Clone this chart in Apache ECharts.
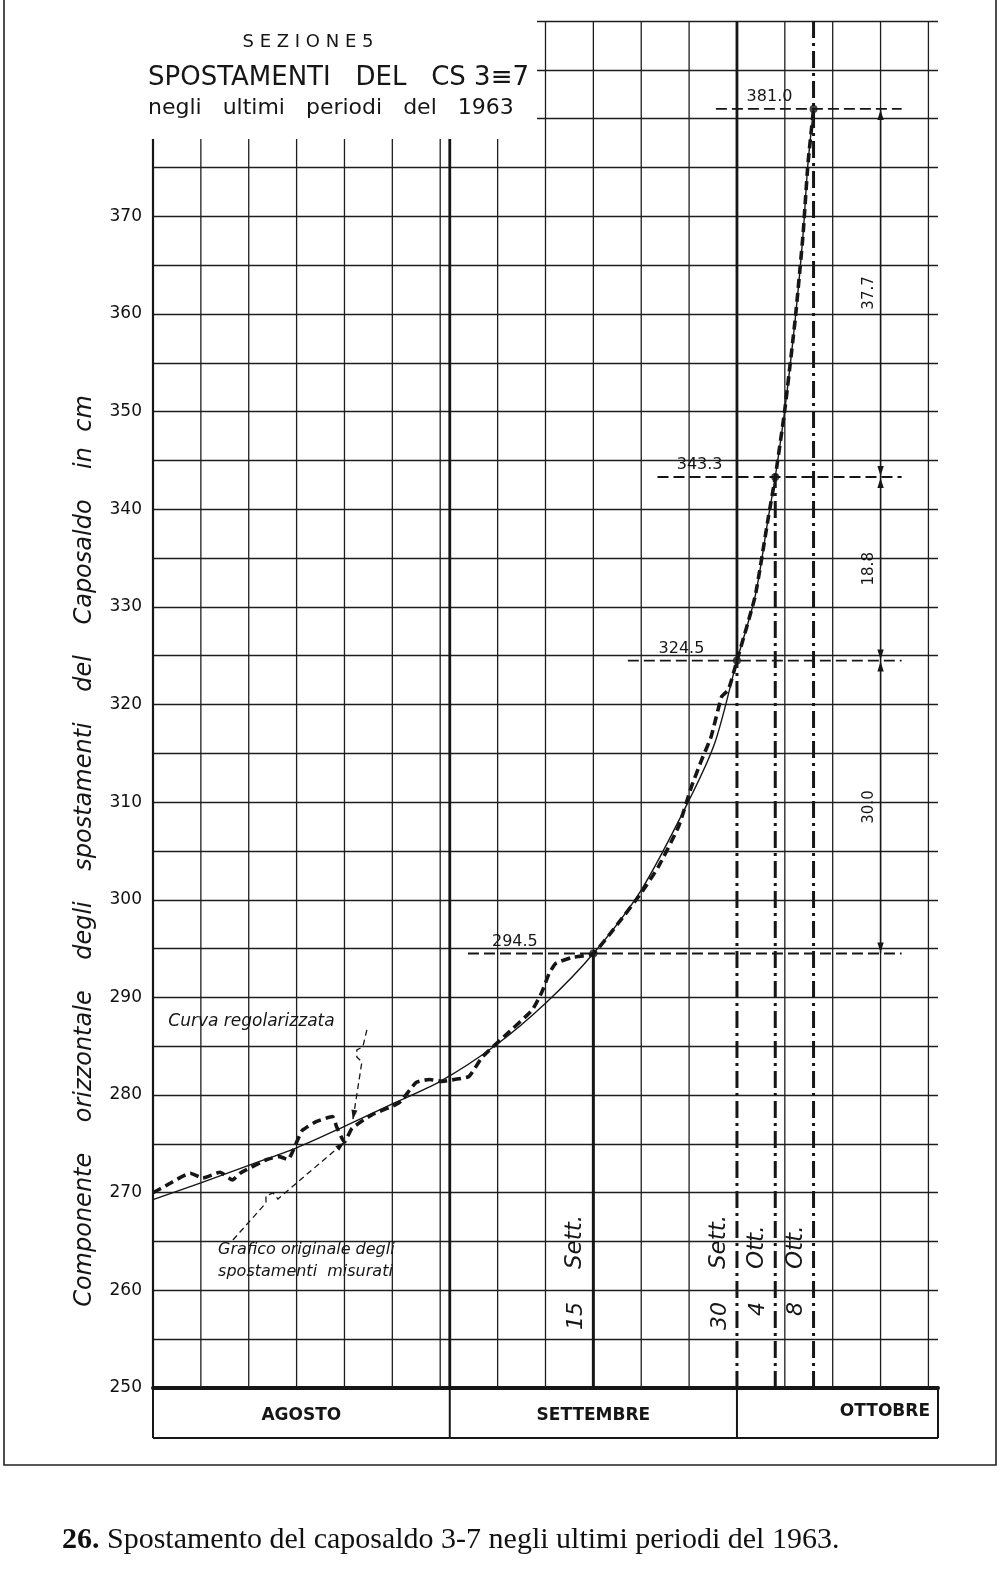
<!DOCTYPE html>
<html><head><meta charset="utf-8">
<script src="https://cdn.jsdelivr.net/npm/echarts@6/dist/echarts.min.js"></script>
<style>html,body{margin:0;padding:0;background:#fff}#c{width:1000px;height:1571px}</style>
</head><body><div id="c"></div>
<script>
// ---------------- data ----------------
const monthNames = ['AGOSTO', 'SETTEMBRE', 'OTTOBRE'];
const monthBounds = [0, 31, 61, 82];            // day index (1 Aug = day 1)
const gridDays = [5, 10, 15, 20, 25, 30, 36, 41, 46, 51, 56, 66, 71, 76, 81];
const yTickValues = [250, 260, 270, 280, 290, 300, 310, 320, 330, 340, 350, 360, 370];

// "Curva regolarizzata" (smoothed curve)  [day, cm]
const smoothCurve = [
  [0, 269.3], [5, 271.0], [10, 272.8], [15, 274.6], [20, 276.8], [25, 279.1], [30, 281.4],
  [35.8, 285.1], [41, 289.4], [46, 294.5], [51, 301.0], [56.1, 310.4], [58.7, 316.1],
  [61, 324.5], [62.9, 331.1], [64.3, 339.3], [65, 343.3], [66, 350.2], [67.1, 359.6],
  [67.9, 368.1], [68.4, 375.2], [69, 381.0]
];
// "Grafico originale degli spostamenti misurati" (measured)  [day, cm]
const measuredCurve = [
  [0, 270.0], [1.5, 270.8], [3.9, 272.0], [5.2, 271.5], [7.0, 272.1], [8.3, 271.3], [9.1, 272.0],
  [11.9, 273.4], [13.2, 273.7], [14.1, 273.4], [15.1, 275.4], [15.6, 276.4], [17.1, 277.3],
  [18.75, 277.8], [19.2, 276.7], [20.0, 275.2], [20.8, 276.6], [22.9, 278.0], [25.7, 279.2],
  [27.5, 281.3], [28.9, 281.6], [30.2, 281.4], [31.5, 281.6], [33, 281.9], [34.4, 283.9],
  [36.9, 286.2], [39.6, 288.7], [40.6, 290.5], [41.4, 292.5], [42.1, 293.5], [43.8, 294.1],
  [46, 294.5], [48.6, 297.6], [51, 300.7], [52.8, 303.4], [54.9, 307.5], [56.25, 311.6],
  [57.3, 314.3], [58.3, 316.7], [59.4, 320.8], [60.1, 321.5], [61, 324.5], [62.9, 331.1],
  [64.3, 339.3], [65, 343.3], [66, 350.2], [67.1, 359.6], [67.9, 368.1], [68.4, 375.2], [69, 381.0]
];
const keyDays = [46, 61, 65, 69];
const keyValues = [294.5, 324.5, 343.3, 381.0];
const keyLabels = ['294.5', '324.5', '343.3', '381.0'];
const dateNums = ['15', '30', '4', '8'];
const dateMonths = ['Sett.', 'Sett.', 'Ott.', 'Ott.'];
const incrementLabels = ['30.0', '18.8', '37.7'];

// ---------------- layout / style ----------------
const INK = '#161616';
const FONT = 'DejaVu Sans';
const Y_MIN = 250, Y_MAX = 390;
const refStartOff = [-13.1, -11.4, -12.3, -10.2];
const refLabelOff = [-8.2, -5.8, -7.9, -4.6];
const refEnd = 78.2;
const dimDay = 76;
const leader1 = [[22.34, 286.68], [21.92, 284.94], [21.29, 284.63], [21.29, 283.91], [21.82, 283.4], [20.88, 277.46]];
const leader2 = [[8.35, 265.16], [11.8, 268.95], [11.8, 269.67], [12.53, 269.98], [13.05, 269.36], [13.67, 269.88], [20.04, 275.2]];

function arrow(tip, from, len, w) {
  const dx = tip[0] - from[0], dy = tip[1] - from[1];
  const L = Math.hypot(dx, dy) || 1, ux = dx / L, uy = dy / L;
  const bx = tip[0] - ux * len, by = tip[1] - uy * len;
  return { type: 'polygon', shape: { points: [tip, [bx - uy * w, by + ux * w], [bx + uy * w, by - ux * w]] }, style: { fill: INK } };
}

function renderAnnotations(params, api) {
  const c = (t, v) => api.coord([t, v]);
  const kids = [];
  const base = c(0, Y_MIN)[1];
  keyDays.forEach((d, i) => {
    const topV = (i === keyDays.length - 1) ? Y_MAX : keyValues[i];
    const p0 = c(d, Y_MIN), p1 = c(d, topV);
    kids.push({ type: 'line', shape: { x1: p0[0], y1: p0[1], x2: p1[0], y2: p1[1] },
      style: { stroke: INK, lineWidth: 3, lineDash: i === 0 ? null : [17, 5, 3, 5] } });
    kids.push({ type: 'text', x: p0[0] - 17, y: base - 86, rotation: Math.PI / 2,
      style: { text: dateNums[i], fill: INK, font: 'italic 22px ' + FONT, align: 'right', verticalAlign: 'middle' } });
    kids.push({ type: 'text', x: p0[0] - 18, y: base - 119, rotation: Math.PI / 2,
      style: { text: dateMonths[i], fill: INK, font: 'italic 23px ' + FONT, align: 'left', verticalAlign: 'middle' } });
  });
  keyDays.forEach((d, i) => {
    const a = c(d + refStartOff[i], keyValues[i]), b = c(refEnd, keyValues[i]);
    kids.push({ type: 'line', shape: { x1: a[0], y1: a[1], x2: b[0], y2: b[1] },
      style: { stroke: INK, lineWidth: 1.8, lineDash: [11, 5] } });
    const l = c(d + refLabelOff[i], keyValues[i]);
    kids.push({ type: 'text', x: l[0], y: l[1] - 12,
      style: { text: keyLabels[i], fill: INK, font: '16px ' + FONT, align: 'center', verticalAlign: 'middle' } });
  });
  for (let i = 0; i < incrementLabels.length; i++) {
    const lo = c(dimDay, keyValues[i]), hi = c(dimDay, keyValues[i + 1]);
    kids.push({ type: 'line', shape: { x1: lo[0], y1: lo[1], x2: hi[0], y2: hi[1] }, style: { stroke: INK, lineWidth: 1.4 } });
    kids.push(arrow([hi[0], hi[1] + 1], [hi[0], hi[1] + 20], 10, 3.2));
    kids.push(arrow([lo[0], lo[1] - 1], [lo[0], lo[1] - 20], 10, 3.2));
    kids.push({ type: 'text', x: lo[0] - 11, y: (lo[1] + hi[1]) / 2, rotation: Math.PI / 2,
      style: { text: incrementLabels[i], fill: INK, font: '15px ' + FONT, align: 'center', verticalAlign: 'middle' } });
  }
  [leader1, leader2].forEach(pts => {
    const px = pts.map(p => c(p[0], p[1]));
    kids.push({ type: 'polyline', shape: { points: px }, style: { stroke: INK, lineWidth: 1.3, lineDash: [6, 4], fill: null } });
    kids.push(arrow(px[px.length - 1], px[px.length - 2], 10, 3));
  });
  const t1 = c(1.6, 287.5);
  kids.push({ type: 'text', x: t1[0], y: t1[1],
    style: { text: 'Curva regolarizzata', fill: INK, font: 'italic 17px ' + FONT, align: 'left', verticalAlign: 'middle' } });
  const t2 = c(6.8, 263.0);
  kids.push({ type: 'text', x: t2[0], y: t2[1],
    style: { text: 'Grafico originale degli\nspostamenti  misurati', fill: INK, font: 'italic 16px ' + FONT, lineHeight: 22, align: 'left', verticalAlign: 'middle' } });
  return { type: 'group', children: kids };
}

function renderMonth(params, api) {
  const i = api.value(2);
  const a = api.coord([monthBounds[i], Y_MIN]), b = api.coord([monthBounds[i + 1], Y_MIN]);
  const h = 50, kids = [];
  kids.push({ type: 'line', shape: { x1: a[0], y1: a[1], x2: a[0], y2: a[1] + h }, style: { stroke: INK, lineWidth: 2 } });
  kids.push({ type: 'line', shape: { x1: a[0], y1: a[1] + h, x2: b[0], y2: b[1] + h }, style: { stroke: INK, lineWidth: 1.8 } });
  const last = i === monthNames.length - 1;
  if (last) kids.push({ type: 'line', shape: { x1: b[0], y1: b[1], x2: b[0], y2: b[1] + h }, style: { stroke: INK, lineWidth: 2 } });
  kids.push({ type: 'text', x: last ? b[0] - 8 : (a[0] + b[0]) / 2, y: a[1] + (last ? 24 : 28),
    style: { text: monthNames[i], fill: INK, font: 'bold 17px ' + FONT, align: last ? 'right' : 'center', verticalAlign: 'middle' } });
  return { type: 'group', children: kids };
}

const chart = echarts.init(document.getElementById('c'), null, { renderer: 'canvas', width: 1000, height: 1571 });
chart.setOption({
  backgroundColor: '#ffffff',
  animation: false,
  grid: { left: 153, right: 62, top: 21, bottom: 183 },
  xAxis: { type: 'value', min: 0, max: 82, axisLine: { show: true, onZero: false, lineStyle: { color: INK, width: 4 } },
    axisTick: { show: false }, axisLabel: { show: false }, splitLine: { show: false } },
  yAxis: { type: 'value', min: Y_MIN, max: Y_MAX, interval: 5,
    axisLine: { show: true, lineStyle: { color: INK, width: 2.2 } }, axisTick: { show: false },
    axisLabel: { margin: 11, color: '#111', fontSize: 17, fontFamily: FONT, formatter: v => yTickValues.includes(v) ? String(v) : '' },
    splitLine: { show: true, lineStyle: { color: '#1e1e1e', width: 1.3 } } },
  graphic: [
    { type: 'rect', z: 50, shape: { x: 100, y: 0, width: 437, height: 139 }, style: { fill: '#ffffff' } },
    { type: 'text', z: 51, x: 308, y: 42, style: { text: 'S E Z I O N E 5', fill: INK, font: '18px ' + FONT, align: 'center', verticalAlign: 'middle' } },
    { type: 'text', z: 51, x: 148, y: 78, style: { text: 'SPOSTAMENTI   DEL   CS 3≡7', fill: INK, font: '26px ' + FONT, align: 'left', verticalAlign: 'middle' } },
    { type: 'text', z: 51, x: 148, y: 108, style: { text: 'negli   ultimi   periodi   del   1963', fill: INK, font: '22px ' + FONT, align: 'left', verticalAlign: 'middle' } },
    { type: 'text', z: 51, x: 85, y: 851, rotation: Math.PI / 2,
      style: { text: 'Componente    orizzontale    degli    spostamenti    del    Caposaldo    in  cm', fill: INK, font: 'italic 24px ' + FONT, align: 'center', verticalAlign: 'middle' } },
    { type: 'rect', z: 51, shape: { x: 4, y: -5, width: 992, height: 1470 }, style: { fill: 'none', stroke: '#222', lineWidth: 1.6 } },
    { type: 'text', z: 51, x: 62, y: 1540,
      style: { text: '{b|26.} Spostamento del caposaldo 3-7 negli ultimi periodi del 1963.', fill: '#111', font: '30px "Liberation Serif"', align: 'left', verticalAlign: 'middle',
        rich: { b: { font: 'bold 30px "Liberation Serif"', fill: '#111' } } } }
  ],
  series: [
    { type: 'custom', silent: true, z: 1, data: gridDays.map(d => [d, Y_MIN]), encode: { x: 0, y: 1 },
      renderItem: (p, api) => { const d = api.value(0); const a = api.coord([d, Y_MIN]), b = api.coord([d, Y_MAX]);
        return { type: 'line', shape: { x1: a[0], y1: a[1], x2: b[0], y2: b[1] }, style: { stroke: '#1e1e1e', lineWidth: 1.3 } }; } },
    { type: 'custom', silent: true, z: 1, data: monthBounds.slice(1, -1).map(d => [d, Y_MIN]), encode: { x: 0, y: 1 },
      renderItem: (p, api) => { const d = api.value(0); const k = keyDays.indexOf(d);
        const a = api.coord([d, k >= 0 ? keyValues[k] : Y_MIN]), b = api.coord([d, Y_MAX]);
        return { type: 'line', shape: { x1: a[0], y1: a[1], x2: b[0], y2: b[1] }, style: { stroke: INK, lineWidth: 2.8 } }; } },
    { name: 'Curva regolarizzata', type: 'line', data: smoothCurve, smooth: 0.3, symbol: 'none', z: 3,
      lineStyle: { color: INK, width: 1.4 } },
    { name: 'Grafico originale', type: 'line', data: measuredCurve, smooth: 0.15, symbol: 'none', z: 4,
      lineStyle: { color: INK, width: 3.6, type: [9, 5] } },
    { type: 'scatter', data: keyDays.map((d, i) => [d, keyValues[i]]), symbolSize: 8, itemStyle: { color: INK }, z: 6, silent: true },
    { type: 'custom', silent: true, z: 5, data: [[0, Y_MIN]], encode: { x: 0, y: 1 }, renderItem: renderAnnotations },
    { type: 'custom', silent: true, z: 5, data: monthNames.map((n, i) => [monthBounds[i], Y_MIN, i]), encode: { x: 0, y: 1 }, renderItem: renderMonth }
  ]
});
</script></body></html>
